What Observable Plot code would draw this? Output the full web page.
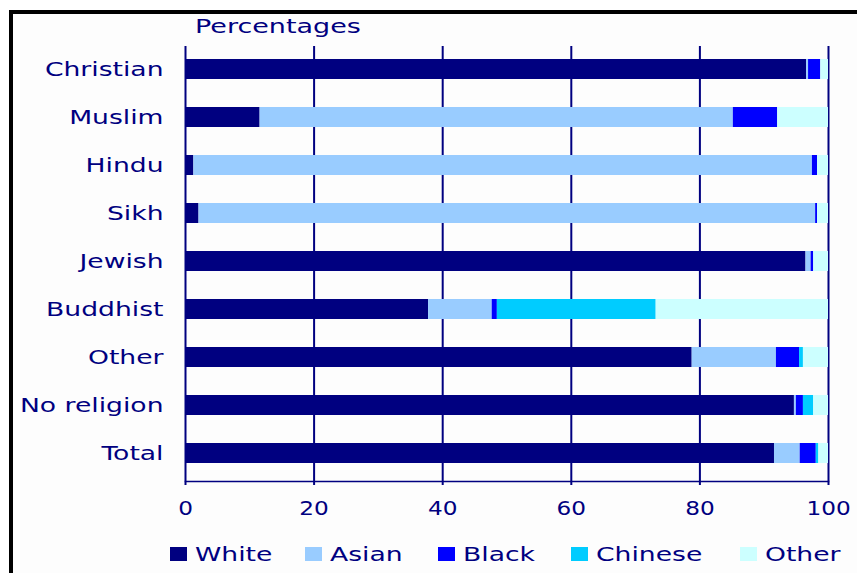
<!DOCTYPE html>
<html><head><meta charset="utf-8">
<script src="https://cdn.jsdelivr.net/npm/d3@7"></script>
<script src="https://cdn.jsdelivr.net/npm/@observablehq/plot@0.6"></script>
<style>
html,body{margin:0;padding:0;background:#fff;width:857px;height:573px;overflow:hidden;font-family:"DejaVu Sans",sans-serif;}
#frame{position:absolute;left:9px;top:10px;right:0;bottom:0;border-left:4px solid #000;border-top:4px solid #000;background:#fdfdfd;}
#chart{position:absolute;left:0;top:0;}
.t{position:absolute;color:#000080;font-size:19px;line-height:19px;white-space:nowrap;transform-origin:0 0;transform:scaleX(1.4);}
.sw{position:absolute;width:17px;height:14px;}
</style></head><body>
<div id="frame"></div>
<div class="t" style="left:195px;top:17px;transform:scaleX(1.42)">Percentages</div>
<div id="chart"></div>
<div id="legend"></div>
<script>
const religions = ["Christian","Muslim","Hindu","Sikh","Jewish","Buddhist","Other","No religion","Total"];
const groups = ["White","Asian","Black","Chinese","Other"];
const colors = ["#000080","#99ccff","#0000ff","#00ccff","#ccffff"];
const white   = [96.6, 11.6,  1.3,  2.1, 96.5, 37.8, 78.8, 94.7, 91.6];
const asian   = [ 0.3, 73.6, 96.2, 95.9,  0.8,  9.9, 13.1,  0.3,  4.0];
const black   = [ 1.9,  6.9,  0.8,  0.3,  0.4,  0.8,  3.6,  1.1,  2.5];
const chinese = [ 0.0,  0.0,  0.0,  0.0,  0.0, 24.7,  0.6,  1.6,  0.4];
const other   = [ 1.2,  7.9,  1.7,  1.7,  2.3, 26.8,  3.9,  2.3,  1.5];
const xTicks = [0, 20, 40, 60, 80, 100];

const series = [white, asian, black, chinese, other];
const data = religions.flatMap((r, i) => groups.map((g, j) => ({religion: r, group: g, value: series[j][i]})));

const chart = Plot.plot({
  width: 857, height: 530,
  marginLeft: 185, marginRight: 29, marginTop: 46, marginBottom: 49,
  style: {fontFamily: "DejaVu Sans", fontSize: "19px", color: "#000080", background: "transparent", overflow: "visible"},
  x: {domain: [0, 100]},
  y: {domain: religions, paddingInner: 0.59, paddingOuter: 0.317, align: 0.43},
  color: {domain: groups, range: colors},
  marks: [
    Plot.ruleX(xTicks, {stroke: "#000080", strokeWidth: 2}),
    Plot.barX(data, Plot.stackX({x: "value", y: "religion", fill: "group"})),
    Plot.frame({anchor: "bottom", stroke: "#000080", strokeWidth: 1.5}),
    Plot.axisX({ticks: xTicks, tickSize: 4, tickPadding: 16, label: null, stroke: "#000080", strokeWidth: 2}),
    Plot.axisY({tickSize: 0, tickPadding: 22, label: null})
  ]
});
document.getElementById("chart").appendChild(chart);
chart.querySelectorAll("text").forEach(t => {
  const L = t.getComputedTextLength();
  if (!L) return;
  const isNum = /^\d+$/.test(t.textContent.trim());
  t.setAttribute("textLength", L * (isNum ? 1.22 : 1.4));
  t.setAttribute("lengthAdjust", "spacingAndGlyphs");
});

// legend
const legendSwatchX = [170, 305, 438, 571, 740];
const legendTextX = [195, 330, 463, 596, 765];
const legend = document.getElementById("legend");
groups.forEach((g, i) => {
  const sw = document.createElement("div");
  sw.className = "sw";
  sw.style.left = legendSwatchX[i] + "px";
  sw.style.top = "547px";
  sw.style.background = colors[i];
  legend.appendChild(sw);
  const tx = document.createElement("div");
  tx.className = "t";
  tx.style.left = legendTextX[i] + "px";
  tx.style.top = "545px";
  tx.textContent = g;
  legend.appendChild(tx);
});
</script>
</body></html>
